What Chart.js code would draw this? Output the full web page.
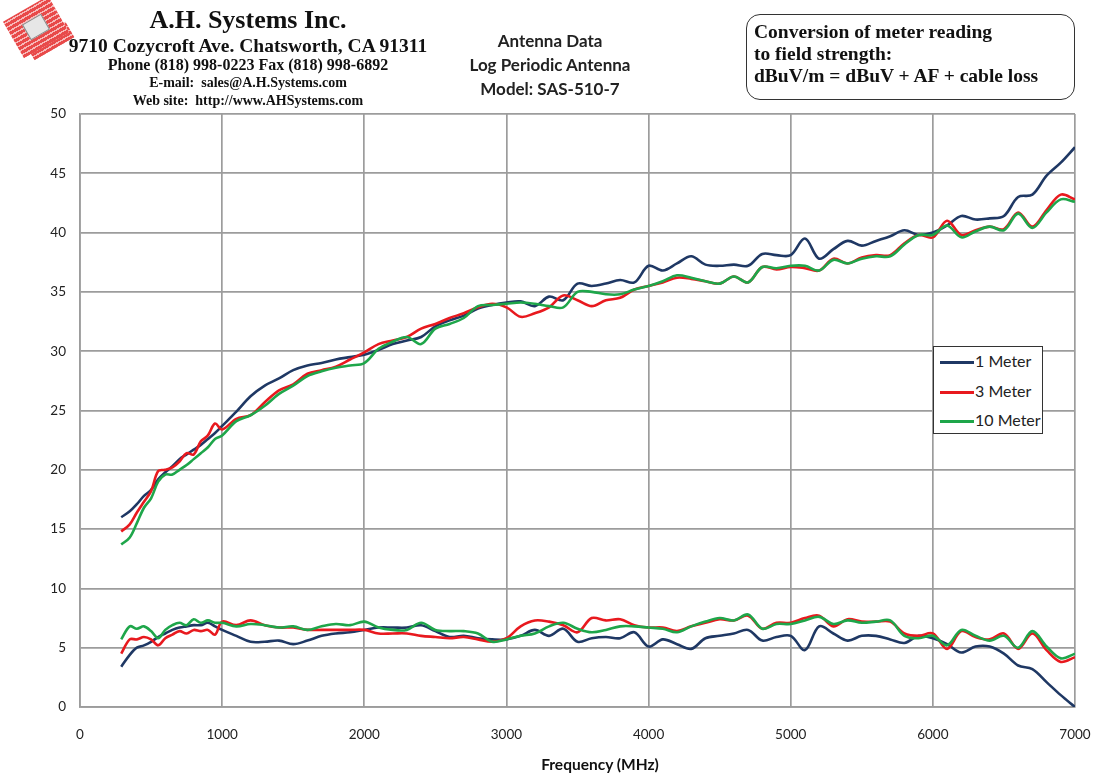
<!DOCTYPE html>
<html>
<head>
<meta charset="utf-8">
<script src="https://cdn.jsdelivr.net/npm/chart.js@4.4.1/dist/chart.umd.min.js"></script>
<style>
    body { margin: 0; background: #fff; width: 1100px; height: 778px; position: relative; overflow: hidden; }
    #myChart { position: absolute; left: 0; top: 0; }
    .serif { font-family: "Liberation Serif", "Times New Roman", serif; font-weight: bold; color: #111; }
    .sans { font-family: Lato, "Open Sans", sans-serif; color: #111; }
    #company { position: absolute; left: 28px; top: 5px; width: 440px; text-align: center; }
    #company div { white-space: nowrap; }
    #model { position: absolute; left: 430px; top: 29px; width: 240px; text-align: center; font-size: 17px; font-weight: bold; line-height: 24px; color: #222; }
    #conv { position: absolute; left: 746px; top: 14px; width: 320px; height: 78px; padding: 6px 0 0 7px;
            border: 1.5px solid #333; border-radius: 14px; font-size: 19.5px; line-height: 22px; }
    #legend { position: absolute; left: 933px; top: 346px; width: 108px; height: 86px; border: 1.5px solid #333; background: #fff; }
    #legend .row { position: absolute; left: 6px; height: 20px; font-size: 16px; line-height: 20px; white-space: nowrap; color: #222; }
    #legend .swatch { display: inline-block; width: 34px; height: 3px; vertical-align: middle; margin-right: 1px; }
    #xtitle { position: absolute; left: 500px; top: 755px; width: 200px; text-align: center; font-size: 15.5px; font-weight: bold; }
    .stripes { background: repeating-linear-gradient(0deg, #e84a4a 0px, #e84a4a 3px, #f7b8b8 3px, #f7b8b8 4.5px); }
    #logo { position: absolute; left: 10px; top: 6px; width: 52px; height: 42px; transform: rotate(-30deg); }
    #logo2 { position: absolute; left: 27px; top: 32px; width: 46px; height: 18px; transform: rotate(-30deg); }
    #logoT { position: absolute; left: 15px; top: 12px; width: 20px; height: 16px; background: #e6e6e6; border: 1px solid #888; }
</style>
</head>
<body>
<canvas id="myChart" width="1100" height="778"></canvas>

<div id="logo2" class="stripes"></div>
<div id="logo" class="stripes"><div id="logoT"></div></div>

<div id="company" class="serif">
    <div style="font-size:26px;line-height:30px;">A.H. Systems Inc.</div>
    <div style="font-size:19.5px;line-height:21px;">9710 Cozycroft Ave. Chatsworth, CA 91311</div>
    <div style="font-size:16px;line-height:18px;">Phone (818) 998-0223 Fax (818) 998-6892</div>
    <div style="font-size:14px;line-height:18px;">E-mail:&nbsp; sales@A.H.Systems.com</div>
    <div style="font-size:14px;line-height:18px;">Web site:&nbsp; http://www.AHSystems.com</div>
</div>

<div id="model" class="sans">Antenna Data<br>Log Periodic Antenna<br>Model: SAS-510-7</div>

<div id="conv" class="serif">Conversion of meter reading<br>to field strength:<br>dBuV/m = dBuV + AF + cable loss</div>

<div id="legend" class="sans"></div>

<div id="xtitle" class="sans">Frequency (MHz)</div>

<script>
// Frequences (MHz)
var freq = [290, 350, 400, 450, 500, 550, 600, 650, 700, 750, 800, 850, 900, 950,
    1000, 1100, 1200, 1300, 1400, 1500, 1600, 1700, 1800, 1900,
    2000, 2100, 2200, 2300, 2400, 2500, 2600, 2700, 2800, 2900,
    3000, 3100, 3200, 3300, 3400, 3500, 3600, 3700, 3800, 3900,
    4000, 4100, 4200, 4300, 4400, 4500, 4600, 4700, 4800, 4900,
    5000, 5100, 5200, 5300, 5400, 5500, 5600, 5700, 5800, 5900,
    6000, 6100, 6200, 6300, 6400, 6500, 6600, 6700, 6800, 6900, 7000];

// Courbes du haut (facteur d'antenne)
var af1m = [16.0, 16.5, 17.1, 17.8, 18.3, 19.2, 19.8, 20.3, 20.9, 21.3, 21.7, 22.1, 22.6, 23.1,
    23.7, 24.9, 26.2, 27.1, 27.7, 28.4, 28.8, 29.0, 29.3, 29.5,
    29.7, 30.1, 30.6, 30.9, 31.2, 32.1, 32.6, 33.0, 33.6, 33.9,
    34.1, 34.2, 33.8, 34.6, 34.3, 35.7, 35.5, 35.7, 36.0, 35.8,
    37.2, 36.8, 37.4, 38.0, 37.3, 37.2, 37.3, 37.2, 38.2, 38.1,
    38.1, 39.5, 37.8, 38.6, 39.3, 38.9, 39.3, 39.7, 40.2, 39.8,
    40.0, 40.6, 41.4, 41.1, 41.2, 41.4, 43.0, 43.2, 44.8, 45.9, 47.2];
var af3m = [14.8, 15.4, 16.4, 17.3, 18.2, 19.9, 20.0, 20.2, 20.7, 21.4, 21.3, 22.4, 22.9, 23.9,
    23.4, 24.3, 24.6, 25.7, 26.7, 27.2, 28.1, 28.4, 28.7, 29.3,
    29.9, 30.6, 30.9, 31.2, 31.9, 32.3, 32.8, 33.2, 33.7, 34.0,
    33.7, 32.9, 33.2, 33.7, 34.7, 34.3, 33.8, 34.3, 34.5, 35.2,
    35.5, 35.8, 36.2, 36.1, 35.9, 35.7, 36.3, 35.8, 37.1, 36.9,
    37.1, 37.0, 36.8, 37.8, 37.4, 37.9, 38.1, 38.1, 39.1, 39.8,
    39.6, 41.0, 39.8, 40.2, 40.5, 40.3, 41.7, 40.5, 41.9, 43.2, 42.8];
var af10m = [13.7, 14.3, 15.5, 16.8, 17.6, 19.0, 19.6, 19.6, 20.0, 20.4, 20.9, 21.4, 21.9, 22.6,
    22.9, 24.1, 24.6, 25.4, 26.4, 27.1, 27.9, 28.3, 28.6, 28.8,
    29.0, 30.2, 30.8, 31.2, 30.6, 31.9, 32.3, 32.8, 33.8, 33.9,
    34.0, 34.1, 34.0, 33.8, 33.7, 35.0, 35.0, 34.8, 34.8, 35.2,
    35.5, 35.9, 36.4, 36.2, 35.9, 35.7, 36.3, 35.8, 37.1, 37.0,
    37.2, 37.2, 36.8, 37.7, 37.4, 37.8, 38.0, 38.0, 39.0, 39.8,
    39.8, 40.6, 39.6, 40.1, 40.5, 40.2, 41.6, 40.4, 41.7, 42.8, 42.6];

// Courbes du bas
var low1m = [3.4, 4.4, 5.0, 5.2, 5.5, 5.9, 6.2, 6.5, 6.7, 6.8, 6.9, 6.9, 7.1, 6.8,
    6.5, 6.0, 5.5, 5.5, 5.6, 5.3, 5.6, 6.0, 6.2, 6.3,
    6.5, 6.7, 6.7, 6.7, 6.9, 6.4, 5.9, 6.0, 5.8, 5.7,
    5.7, 6.0, 6.5, 6.0, 6.6, 5.5, 5.8, 5.9, 5.8, 6.3,
    5.1, 5.7, 5.3, 4.9, 5.8, 6.0, 6.2, 6.5, 5.6, 5.9,
    6.0, 4.8, 6.8, 6.2, 5.6, 6.0, 6.0, 5.7, 5.4, 6.0,
    5.8, 5.3, 4.6, 5.1, 5.1, 4.5, 3.5, 3.2, 2.1, 1.0, 0.0];
var low3m = [4.5, 5.7, 5.7, 5.9, 5.7, 5.2, 5.8, 6.1, 6.4, 6.2, 6.5, 6.4, 6.5, 6.1,
    7.2, 6.9, 7.3, 6.9, 6.7, 6.7, 6.5, 6.5, 6.5, 6.5,
    6.5, 6.2, 6.2, 6.2, 6.0, 5.9, 5.8, 5.9, 5.7, 5.5,
    5.8, 6.8, 7.3, 7.2, 6.9, 6.3, 7.5, 7.3, 7.4, 6.9,
    6.7, 6.7, 6.4, 6.8, 7.1, 7.4, 7.3, 7.7, 6.6, 7.1,
    7.1, 7.5, 7.7, 6.8, 7.4, 7.2, 7.2, 7.2, 6.2, 6.0,
    6.2, 4.9, 6.4, 5.9, 5.7, 6.2, 4.9, 6.2, 4.8, 3.8, 4.2];
var low10m = [5.7, 6.8, 6.6, 6.8, 6.4, 5.8, 6.5, 6.9, 7.1, 6.9, 7.4, 7.1, 7.3, 7.1,
    7.1, 6.8, 7.0, 6.9, 6.7, 6.8, 6.5, 6.8, 7.0, 6.9,
    7.2, 6.7, 6.5, 6.5, 7.1, 6.5, 6.4, 6.4, 6.2, 5.5,
    5.7, 6.0, 6.2, 6.8, 7.1, 6.6, 6.3, 6.5, 6.8, 6.8,
    6.7, 6.6, 6.3, 6.8, 7.2, 7.5, 7.3, 7.8, 6.6, 7.0,
    7.0, 7.3, 7.6, 7.0, 7.3, 7.1, 7.2, 7.3, 6.0, 5.8,
    6.0, 5.2, 6.5, 6.0, 5.6, 6.0, 5.0, 6.4, 5.1, 4.1, 4.5];

var labels = ['1 Meter', '3 Meter', '10 Meter'];
var colors = ['#1f3864', '#e8191e', '#1ea64a'];
var xTicks = { min: 0, max: 7000, step: 1000 };
var yTicks = { min: 0, max: 50, step: 5 };

function toPoints(values) {
    return values.map((v, i) => ({ x: freq[i], y: v }));
}

function makeSet(i, values) {
    return {
        label: labels[i],
        data: toPoints(values),
        borderColor: colors[i],
        backgroundColor: colors[i],
        borderWidth: 2.6,
        pointRadius: 0,
        tension: 0.35,
        fill: false,
        order: 3 - i // vert au dessus
    };
}

var tickFont = { family: 'Lato', size: 13.5 };

var chart = new Chart(document.getElementById('myChart').getContext('2d'), {
    type: 'line',
    data: {
        datasets: [
            makeSet(0, af1m), makeSet(1, af3m), makeSet(2, af10m),
            makeSet(0, low1m), makeSet(1, low3m), makeSet(2, low10m)
        ]
    },
    options: {
        responsive: false,
        animation: false,
        layout: { padding: { top: 114, right: 25, left: 0, bottom: 0 } },
        plugins: { legend: { display: false }, tooltip: { enabled: false } },
        scales: {
            x: {
                type: 'linear',
                min: xTicks.min,
                max: xTicks.max,
                afterFit: function(s) { s.height = 71; s.paddingLeft = 0; s.paddingRight = 0; },
                ticks: { stepSize: xTicks.step, color: '#222', font: tickFont, padding: 20, maxRotation: 0,
                         callback: function(v) { return v; } },
                grid: { color: '#9c9c9c', lineWidth: 1.7, drawTicks: false },
                border: { color: '#9c9c9c', width: 1.7 }
            },
            y: {
                min: yTicks.min,
                max: yTicks.max,
                afterFit: function(s) { s.width = 80; },
                ticks: { stepSize: yTicks.step, color: '#222', font: tickFont, padding: 14 },
                grid: { color: '#9c9c9c', lineWidth: 1.7, drawTicks: false },
                border: { color: '#9c9c9c', width: 1.7 }
            }
        }
    }
});

// Legende
var legend = document.getElementById('legend');
labels.forEach(function(name, i) {
    legend.innerHTML += '<div class="row" style="top:' + (4 + i * 29.5) + 'px"><span class="swatch" style="background:' + colors[i] + '"></span>' + name + '</div>';
});
</script>
</body>
</html>
